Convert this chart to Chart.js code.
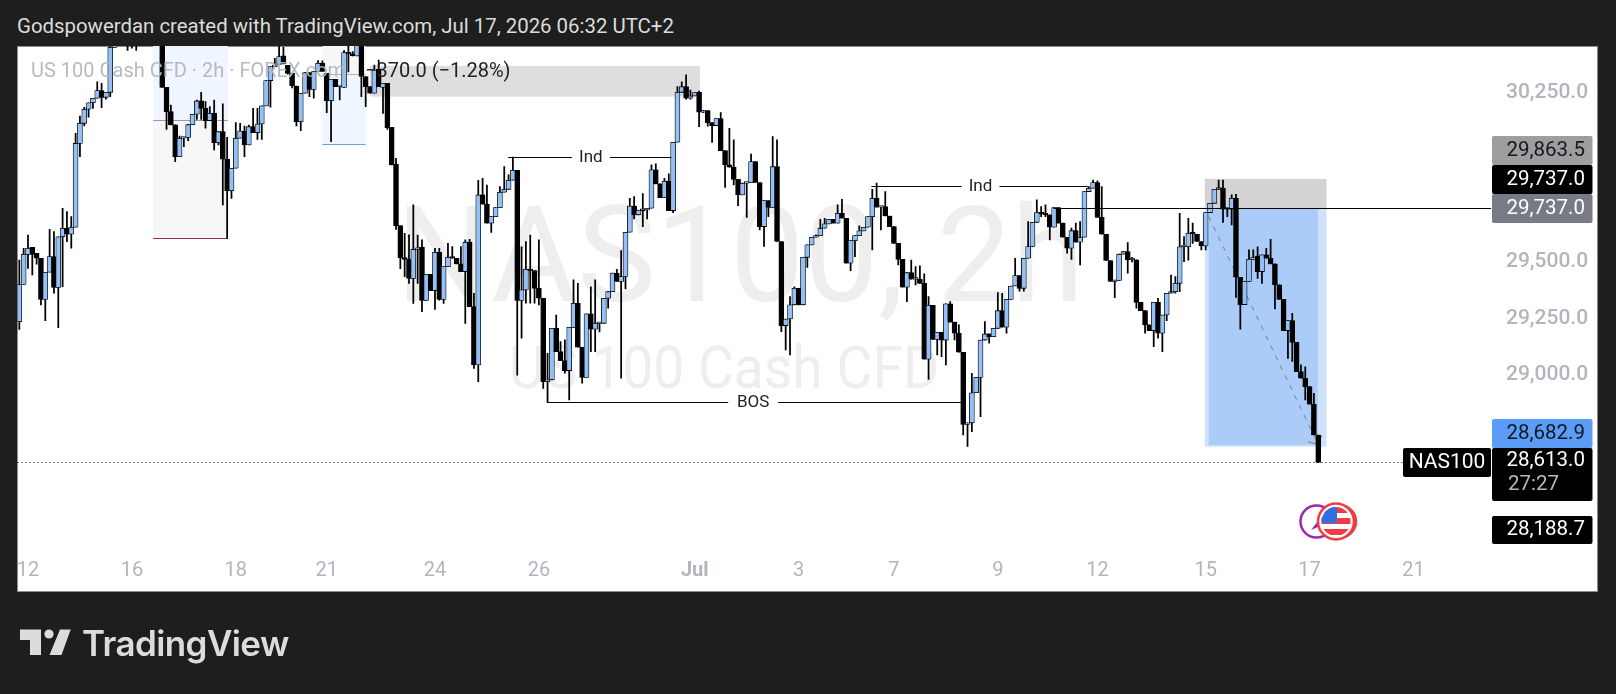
<!DOCTYPE html>
<html>
<head>
<meta charset="utf-8">
<title>NAS100 2h</title>
<script src="https://cdn.jsdelivr.net/npm/chart.js@4/dist/chart.umd.min.js"></script>
<style>
  html, body { margin: 0; padding: 0; background: #1e1e1e; }
  body { width: 1616px; height: 694px; position: relative; overflow: hidden; font-family: Roboto, sans-serif; }
  #header { position: absolute; left: 17px; top: 13px; color: #dcdcdc; font-size: 20.4px; line-height: 26px; white-space: nowrap; }
  #pane { position: absolute; left: 17px; top: 46px; width: 1581px; height: 546px; background: #fff; border: 1px solid #8c8c8c; box-sizing: border-box; }
  #myChart { position: absolute; left: 0; top: 0; }
  #logo { position: absolute; left: 20px; top: 629px; }
  #logoText { position: absolute; left: 82px; top: 621px; color: #dcdcdc; font-family: Inter, sans-serif; font-weight: 600; font-size: 35px; line-height: 44px; letter-spacing: -0.6px; white-space: nowrap; }
</style>
</head>
<body>
<div id="header">Godspowerdan created with TradingView.com, Jul 17, 2026 06:32 UTC+2</div>
<div id="pane"></div>
<canvas id="myChart" width="1616" height="694"></canvas>
<svg id="logo" width="52" height="27" viewBox="0 0 52 27">
  <path fill="#dcdcdc" d="M0 0.5H21V26H10V11H0Z"/>
  <circle fill="#dcdcdc" cx="29" cy="5" r="4.6"/>
  <path fill="#dcdcdc" d="M40 0.5H50.7L41.5 26H29.5Z"/>
</svg>
<div id="logoText">TradingView</div>
<script>
'use strict';

// 2h candles
const opens = [
  29235,29400,29533,29564,29538,29516,29334,29454,29523,29387,29611,29648,29622,29653,30024,30113,30175,30204,30224,30258,
  30228,30250,30449,30470,30500,30560,30540,30520,30530,30580,30600,30620,30630,30600,30272,30165,30106,29965,30047,30050,
  30107,30153,30212,30179,30125,30157,30027,30076,29954,29815,29914,30047,30079,30017,30098,30072,30110,30190,30302,30364,
  30374,30411,30370,30334,30278,30120,30246,30337,30263,30342,30379,30334,30213,30308,30275,30272,30426,30420,30411,30480,
  30320,30275,30246,30352,30272,30290,30095,29932,29660,29519,29511,29427,29555,29565,29329,29445,29373,29542,29334,29479,
  29520,29516,29491,29457,29587,29302,29044,29796,29755,29671,29700,29740,29808,29821,29861,29905,29329,29376,29467,29461,
  29383,29339,28970,28978,29206,29103,29063,29019,29210,29317,29122,28989,29270,29202,29228,29228,29339,29368,29450,29413,
  29435,29631,29747,29708,29727,29730,29737,29907,29845,29784,29857,29727,30029,30250,30275,30224,30234,30250,30162,30169,
  30116,30103,30134,29992,29929,29919,29865,29796,29848,29850,29944,29851,29656,29771,29741,29921,29590,29218,29247,29310,
  29383,29310,29520,29575,29609,29616,29649,29668,29688,29671,29715,29693,29494,29594,29616,29637,29653,29700,29781,29742,
  29745,29703,29656,29582,29511,29388,29452,29423,29423,29405,29069,29308,29157,29188,29154,29314,29233,29184,29100,28781,
  28788,28921,28989,29154,29181,29169,29206,29284,29211,29334,29393,29439,29383,29516,29568,29675,29718,29712,29708,29653,
  29740,29671,29609,29560,29638,29587,29609,29811,29826,29851,29697,29622,29506,29413,29418,29534,29545,29509,29509,29321,
  29284,29221,29196,29321,29184,29265,29361,29368,29405,29567,29567,29626,29622,29590,29570,29718,29759,29821,29826,29733,
  29733,29781,29432,29311,29413,29511,29525,29457,29531,29516,29491,29398,29334,29196,29240,29144,29014,28985,28948,28870,
  28734
];
const highs = [
  29508,29560,29619,29564,29538,29516,29454,29644,29634,29611,29737,29722,29700,30069,30145,30184,30204,30224,30297,30290,
  30250,30470,30520,30560,30600,30610,30590,30570,30600,30640,30650,30650,30660,30620,30272,30194,30106,30057,30050,30107,
  30153,30216,30250,30209,30187,30216,30076,30199,30051,29914,30116,30113,30101,30105,30179,30179,30190,30302,30364,30400,
  30455,30450,30370,30334,30278,30246,30337,30337,30342,30390,30389,30334,30308,30308,30275,30435,30470,30430,30530,30500,
  30320,30275,30371,30393,30290,30290,30095,29958,29660,29626,29620,29752,29619,29597,29445,29445,29560,29560,29479,29582,
  29568,29516,29568,29597,29600,29361,29861,29870,29840,29700,29740,29833,29921,29885,29963,29905,29567,29590,29619,29461,
  29597,29339,29095,29206,29265,29147,29155,29210,29420,29405,29122,29270,29390,29420,29228,29339,29368,29450,29467,29550,
  29631,29781,29789,29727,29802,29737,29929,29934,29845,29870,29889,30029,30275,30297,30327,30260,30249,30255,30170,30169,
  30116,30134,30160,29992,30091,30040,29865,29848,29850,29977,29944,29851,29771,29771,30054,30040,29590,29247,29346,29390,
  29383,29520,29575,29609,29620,29688,29693,29688,29688,29752,29777,29693,29594,29616,29659,29653,29700,29821,29848,29745,
  29811,29703,29656,29582,29511,29452,29508,29479,29482,29447,29346,29308,29188,29188,29314,29324,29233,29221,29100,28788,
  29007,28989,29154,29236,29181,29206,29364,29361,29334,29393,29516,29439,29516,29678,29675,29774,29744,29752,29708,29740,
  29740,29671,29609,29649,29671,29678,29811,29833,29862,29858,29833,29622,29506,29418,29534,29545,29585,29520,29509,29321,
  29284,29221,29321,29339,29265,29361,29442,29435,29715,29612,29693,29671,29622,29590,29718,29759,29821,29862,29862,29733,
  29796,29799,29432,29413,29553,29553,29567,29531,29560,29600,29491,29398,29334,29240,29272,29144,29044,29036,28948,28918,
  28734
];
const lows = [
  29201,29400,29471,29442,29490,29309,29240,29454,29361,29209,29390,29589,29560,29653,29965,30101,30140,30179,30224,30182,
  30220,30231,30449,30470,30480,30435,30445,30435,30500,30540,30560,30580,30590,30272,30086,30106,29943,29965,30010,30036,
  30107,30130,30130,30091,30125,29995,30017,29752,29604,29781,29914,30047,29965,30017,30072,30042,30042,30190,30184,30364,
  30374,30376,30330,30270,30101,30080,30246,30231,30224,30342,30342,30160,30032,30275,30216,30272,30340,30411,30411,30231,
  30187,30246,30246,30275,30157,30086,29929,29644,29470,29434,29405,29316,29405,29280,29329,29373,29290,29330,29316,29479,
  29516,29491,29457,29228,29302,29029,28970,29755,29671,29630,29700,29740,29808,29821,29861,28999,29162,29317,29317,29317,
  29310,28940,28878,28978,29103,29063,29007,28889,29210,29122,28963,28989,29103,29103,29190,29228,29295,29368,29413,28985,
  29380,29631,29690,29708,29656,29690,29737,29845,29784,29784,29727,29718,30029,30250,30220,30220,30234,30098,30160,30100,
  30028,30103,29992,29829,29919,29840,29749,29796,29697,29850,29851,29641,29568,29700,29741,29590,29191,29110,29088,29310,
  29310,29310,29475,29575,29609,29616,29649,29668,29671,29671,29693,29494,29461,29523,29616,29637,29653,29553,29742,29641,
  29703,29656,29582,29486,29388,29324,29423,29398,29405,29069,28980,29157,29088,29081,29044,29233,29155,29100,28734,28683,
  28749,28921,28815,29154,29140,29169,29206,29211,29184,29334,29393,29370,29370,29516,29568,29675,29700,29700,29597,29653,
  29671,29609,29538,29511,29587,29486,29609,29811,29826,29697,29622,29506,29413,29342,29418,29534,29450,29500,29295,29284,
  29184,29196,29125,29162,29103,29240,29361,29361,29368,29501,29508,29582,29590,29553,29553,29718,29759,29821,29674,29700,
  29663,29343,29202,29311,29413,29511,29427,29405,29516,29491,29292,29334,29196,29073,29059,29014,28985,28889,28870,28734,
  28613
];
const closes = [
  29400,29533,29560,29533,29516,29334,29454,29523,29387,29611,29648,29622,29653,30024,30113,30175,30204,30224,30258,30228,
  30250,30449,30470,30500,30560,30540,30520,30530,30580,30600,30620,30630,30600,30272,30165,30106,29965,30047,30050,30107,
  30153,30212,30179,30125,30157,30027,30076,29954,29815,29914,30047,30079,30017,30098,30072,30110,30190,30302,30364,30368,
  30408,30376,30334,30278,30120,30246,30337,30263,30342,30379,30342,30213,30308,30275,30275,30426,30420,30411,30480,30320,
  30275,30246,30349,30275,30290,30094,29929,29660,29519,29511,29427,29555,29560,29329,29445,29373,29542,29334,29479,29520,
  29516,29491,29457,29587,29302,29044,29796,29755,29671,29700,29740,29808,29821,29861,29905,29329,29376,29467,29461,29383,
  29339,28970,28978,29206,29103,29063,29019,29210,29317,29122,28989,29270,29202,29228,29228,29339,29368,29450,29413,29435,
  29631,29747,29708,29727,29730,29737,29907,29845,29784,29857,29727,30029,30250,30275,30224,30234,30249,30162,30169,30116,
  30103,30134,29992,29929,29919,29865,29796,29848,29850,29944,29851,29656,29771,29741,29921,29590,29218,29247,29310,29383,
  29310,29520,29575,29609,29616,29649,29668,29688,29671,29715,29693,29494,29594,29616,29637,29653,29700,29781,29742,29745,
  29703,29656,29582,29511,29388,29452,29423,29423,29405,29069,29308,29157,29188,29154,29314,29233,29184,29100,28781,28788,
  28921,28989,29154,29181,29169,29206,29284,29211,29334,29393,29439,29383,29516,29568,29675,29718,29712,29708,29653,29740,
  29671,29609,29560,29638,29587,29609,29811,29826,29851,29697,29622,29506,29413,29418,29534,29545,29509,29509,29321,29284,
  29221,29196,29321,29184,29265,29361,29368,29405,29567,29567,29626,29624,29590,29570,29718,29759,29821,29826,29733,29733,
  29781,29432,29311,29413,29511,29520,29457,29531,29516,29491,29398,29334,29196,29240,29144,29014,28985,28948,28870,28734,
  28613
];

const candleIdx = opens.map((_, i) => i);

// axis ticks
const yTickValues = [30250, 29500, 29250, 29000];
const xTickIdx = [2, 26, 50, 71, 96, 120, 156, 180, 202, 226, 249, 274, 298, 322];
const xTickLabels = ['12', '16', '18', '21', '24', '26', 'Jul', '3', '7', '9', '12', '15', '17', '21'];

// drawings on the chart, [x1, x2, priceTop, priceBottom]
const zoneBoxes = [
  { box: [30.9, 48.1, 30500, 30126], color: '#f0f6ff' },
  { box: [30.9, 48.1, 30126, 29604], color: '#f7f7f7' },
  { box: [70, 80, 30500, 30331], color: '#f7f7f7' },
  { box: [70, 80, 30331, 30020], color: '#f0f6ff' },
  { box: [81, 157.2, 30367, 30231], color: '#dedede' },
  { box: [273.8, 301.9, 29867, 29737], color: '#d3d3d3' },
  { box: [273.8, 301.9, 29737, 28682], color: '#cfe1fb' },
  { box: [274.7, 299.9, 29737, 28690], color: '#abccf8' }
];
// [x1, x2, price]
const zoneLines = [
  { line: [30.9, 48.1, 30126], color: '#9a9a9a' },
  { line: [30.9, 48.1, 29604], color: '#9a2a58' },
  { line: [70, 80, 30331], color: '#b5b5b5' },
  { line: [70, 80, 30020], color: '#6fa0e0' }
];
const markLines = [
  { from: 112.9, to: 150.6, price: 29963, text: 'Ind', at: 132, gap: 19 },
  { from: 196.8, to: 246.8, price: 29835, text: 'Ind', at: 222, gap: 19 },
  { from: 122, to: 217.6, price: 28879, text: 'BOS', at: 169.5, gap: 25 }
];
const entryLine = { from: 238.8, price: 29737 };
const lastPrice = 28613;
const pathLine = { x1: 274.7, p1: 29700, x2: 299.9, p2: 28696 };

const priceTags = [
  { text: '29,863.5', top: 136, bottom: 165, bg: '#9e9e9e', fg: '#131722' },
  { text: '29,737.0', top: 165, bottom: 194, bg: '#000000', fg: '#ffffff' },
  { text: '29,737.0', top: 194, bottom: 223, bg: '#787b86', fg: '#ffffff' },
  { text: '28,682.9', top: 419, bottom: 448, bg: '#5b9cf6', fg: '#131722' },
  { text: '28,188.7', top: 516, bottom: 544, bg: '#000000', fg: '#ffffff' }
];

function tag(ctx, x, y, w, h, bg) {
  ctx.fillStyle = bg;
  ctx.beginPath();
  ctx.roundRect(x, y, w, h, 2);
  ctx.fill();
}

const drawings = {
  id: 'drawings',
  beforeDatasetsDraw(chart) {
    const { ctx, chartArea: a, scales: { x, y } } = chart;
    ctx.save();
    ctx.beginPath();
    ctx.rect(a.left, a.top, a.right - a.left, a.bottom - a.top);
    ctx.clip();

    // watermark
    ctx.fillStyle = '#eeeeee';
    ctx.textAlign = 'center';
    ctx.textBaseline = 'alphabetic';
    ctx.save();
    ctx.translate(740, 301);
    ctx.scale(0.985, 1);
    ctx.font = '134px Roboto';
    ctx.fillText('NAS100, 2h', 0, 0);
    ctx.restore();
    ctx.save();
    ctx.translate(724, 388);
    ctx.scale(0.92, 1);
    ctx.font = '60px Roboto';
    ctx.fillText('US 100 Cash CFD', 0, 0);
    ctx.restore();

    zoneBoxes.forEach(z => {
      const [x1, x2, top, bottom] = z.box;
      ctx.fillStyle = z.color;
      ctx.fillRect(x.getPixelForValue(x1), y.getPixelForValue(top),
        x.getPixelForValue(x2) - x.getPixelForValue(x1),
        y.getPixelForValue(bottom) - y.getPixelForValue(top));
    });
    zoneLines.forEach(z => {
      const [x1, x2, p] = z.line;
      ctx.strokeStyle = z.color;
      ctx.lineWidth = 1;
      ctx.beginPath();
      ctx.moveTo(x.getPixelForValue(x1), Math.round(y.getPixelForValue(p)) + 0.5);
      ctx.lineTo(x.getPixelForValue(x2), Math.round(y.getPixelForValue(p)) + 0.5);
      ctx.stroke();
    });

    // dashed path inside the position box
    const tipX = x.getPixelForValue(pathLine.x2), tipY = y.getPixelForValue(pathLine.p2);
    ctx.strokeStyle = '#7b7f88';
    ctx.lineWidth = 1;
    ctx.setLineDash([5, 6]);
    ctx.beginPath();
    ctx.moveTo(x.getPixelForValue(pathLine.x1), y.getPixelForValue(pathLine.p1));
    ctx.lineTo(tipX, tipY);
    ctx.stroke();
    ctx.setLineDash([]);
    ctx.beginPath();
    ctx.moveTo(tipX - 10, tipY - 2);
    ctx.lineTo(tipX, tipY + 1);
    ctx.lineTo(tipX + 4, tipY - 8);
    ctx.stroke();
    ctx.restore();
  },
  afterDatasetsDraw(chart) {
    const { ctx, chartArea: a, scales: { x, y } } = chart;
    ctx.save();

    // horizontal levels
    ctx.strokeStyle = '#000';
    ctx.lineWidth = 1;
    markLines.forEach(m => {
      const py = Math.round(y.getPixelForValue(m.price)) + 0.5;
      const mid = x.getPixelForValue(m.at);
      ctx.beginPath();
      ctx.moveTo(x.getPixelForValue(m.from), py);
      ctx.lineTo(mid - m.gap, py);
      ctx.moveTo(mid + m.gap, py);
      ctx.lineTo(x.getPixelForValue(m.to), py);
      ctx.stroke();
      ctx.fillStyle = '#222';
      ctx.font = '17px Roboto';
      ctx.textAlign = 'center';
      ctx.textBaseline = 'middle';
      ctx.fillText(m.text, mid, py);
    });
    const ey = Math.round(y.getPixelForValue(entryLine.price)) + 0.5;
    ctx.beginPath();
    ctx.moveTo(x.getPixelForValue(entryLine.from), ey);
    ctx.lineTo(a.right, ey);
    ctx.stroke();

    // last price dotted line
    const ly = Math.round(y.getPixelForValue(lastPrice)) + 0.5;
    ctx.setLineDash([1, 3]);
    ctx.beginPath();
    ctx.moveTo(a.left, ly);
    ctx.lineTo(1403, ly);
    ctx.stroke();
    ctx.setLineDash([]);

    // legend line
    ctx.textAlign = 'left';
    ctx.textBaseline = 'middle';
    ctx.font = '20px Roboto';
    ctx.fillStyle = 'rgba(178,181,190,0.95)';
    ctx.fillText('US 100 Cash CFD \u00b7 2h \u00b7 FOREX.com', 31, 72);
    ctx.fillStyle = '#222';
    ctx.fillText('\u2212370.0 (\u22121.28%)', 365, 72);

    // price scale tags
    ctx.font = '20.5px Roboto';
    ctx.textAlign = 'right';
    priceTags.forEach(t => {
      tag(ctx, 1492, t.top, 100.5, t.bottom - t.top, t.bg);
      ctx.fillStyle = t.fg;
      ctx.fillText(t.text, 1585, (t.top + t.bottom) / 2);
    });
    tag(ctx, 1492, 448, 100.5, 53, '#000');
    ctx.fillStyle = '#fff';
    ctx.fillText('28,613.0', 1585, 461);
    ctx.fillStyle = '#b8b8b8';
    ctx.textAlign = 'left';
    ctx.fillText('27:27', 1508, 485);
    tag(ctx, 1403, 448, 88, 29, '#000');
    ctx.fillStyle = '#fff';
    ctx.textAlign = 'center';
    ctx.font = '21px Roboto';
    ctx.fillText('NAS100', 1447, 463);

    // event icons
    ctx.lineWidth = 2.5;
    ctx.fillStyle = '#fff';
    ctx.strokeStyle = '#9c27b0';
    ctx.beginPath();
    ctx.arc(1316.5, 521.5, 16, 0, Math.PI * 2);
    ctx.fill();
    ctx.stroke();
    ctx.fillStyle = '#9c27b0';
    ctx.beginPath();
    ctx.moveTo(1318, 521);
    ctx.lineTo(1311, 530);
    ctx.lineTo(1318, 527);
    ctx.lineTo(1322, 519);
    ctx.fill();
    ctx.strokeStyle = '#ef3b46';
    ctx.fillStyle = '#fff';
    ctx.beginPath();
    ctx.arc(1340, 521.5, 16, 0, Math.PI * 2);
    ctx.fill();
    ctx.stroke();
    ctx.beginPath();
    ctx.arc(1336, 521.5, 18, 0, Math.PI * 2);
    ctx.fill();
    ctx.stroke();
    ctx.save();
    ctx.beginPath();
    ctx.arc(1336, 521.5, 14.5, 0, Math.PI * 2);
    ctx.clip();
    ctx.fillStyle = '#fff';
    ctx.fillRect(1320, 506, 32, 32);
    ctx.fillStyle = '#ef3b46';
    ctx.fillRect(1320, 507, 32, 6);
    ctx.fillRect(1320, 518, 32, 6);
    ctx.fillRect(1320, 529, 32, 6);
    ctx.fillStyle = '#2f6fe0';
    ctx.fillRect(1320, 506, 17, 17);
    ctx.restore();

    ctx.restore();
  }
};

const config = {
  type: 'bar',
  data: {
    datasets: [
      {
        label: 'body',
        data: candleIdx.map(i => ({ x: i, y: [opens[i], closes[i]] })),
        grouped: false,
        barThickness: 5,
        minBarLength: 1.6,
        borderWidth: 0.8,
        borderSkipped: false,
        borderColor: '#000',
        backgroundColor: ctx => (closes[ctx.dataIndex] >= opens[ctx.dataIndex] ? '#94c0f6' : '#000')
      },
      {
        label: 'wick',
        data: candleIdx.map(i => ({ x: i, y: [lows[i], highs[i]] })),
        grouped: false,
        barThickness: 1.1,
        borderWidth: 0,
        backgroundColor: '#000'
      }
    ]
  },
  options: {
    responsive: false,
    animation: false,
    events: [],
    layout: { padding: { left: 17.5, top: 46, right: 18, bottom: 102.5 } },
    plugins: { legend: { display: false }, tooltip: { enabled: false } },
    scales: {
      x: {
        type: 'linear',
        offset: false,
        min: -0.42,
        max: 339.9,
        grid: { display: false, drawTicks: false },
        border: { display: false },
        afterBuildTicks: s => { s.ticks = xTickIdx.map(v => ({ value: v })); },
        afterFit: s => { s.height = 43.5; },
        ticks: {
          autoSkip: false,
          maxRotation: 0,
          padding: 11,
          color: '#b2b5be',
          font: ctx => ({ family: 'Roboto', size: 20, weight: ctx.tick && ctx.tick.value === 156 ? 'bold' : 'normal' }),
          callback: v => xTickLabels[xTickIdx.indexOf(v)]
        }
      },
      y: {
        position: 'right',
        min: 28234,
        max: 30455,
        grid: { display: false, drawTicks: false },
        border: { display: false },
        afterBuildTicks: s => { s.ticks = yTickValues.map(v => ({ value: v })); },
        afterFit: s => { s.width = 107; },
        ticks: {
          crossAlign: 'near',
          padding: 15,
          color: '#b2b5be',
          font: { family: 'Roboto', size: 21, weight: '500' },
          callback: v => v.toLocaleString('en-US', { minimumFractionDigits: 1 })
        }
      }
    }
  },
  plugins: [drawings]
};

const myChart = new Chart(document.getElementById('myChart'), config);
</script>
</body>
</html>
